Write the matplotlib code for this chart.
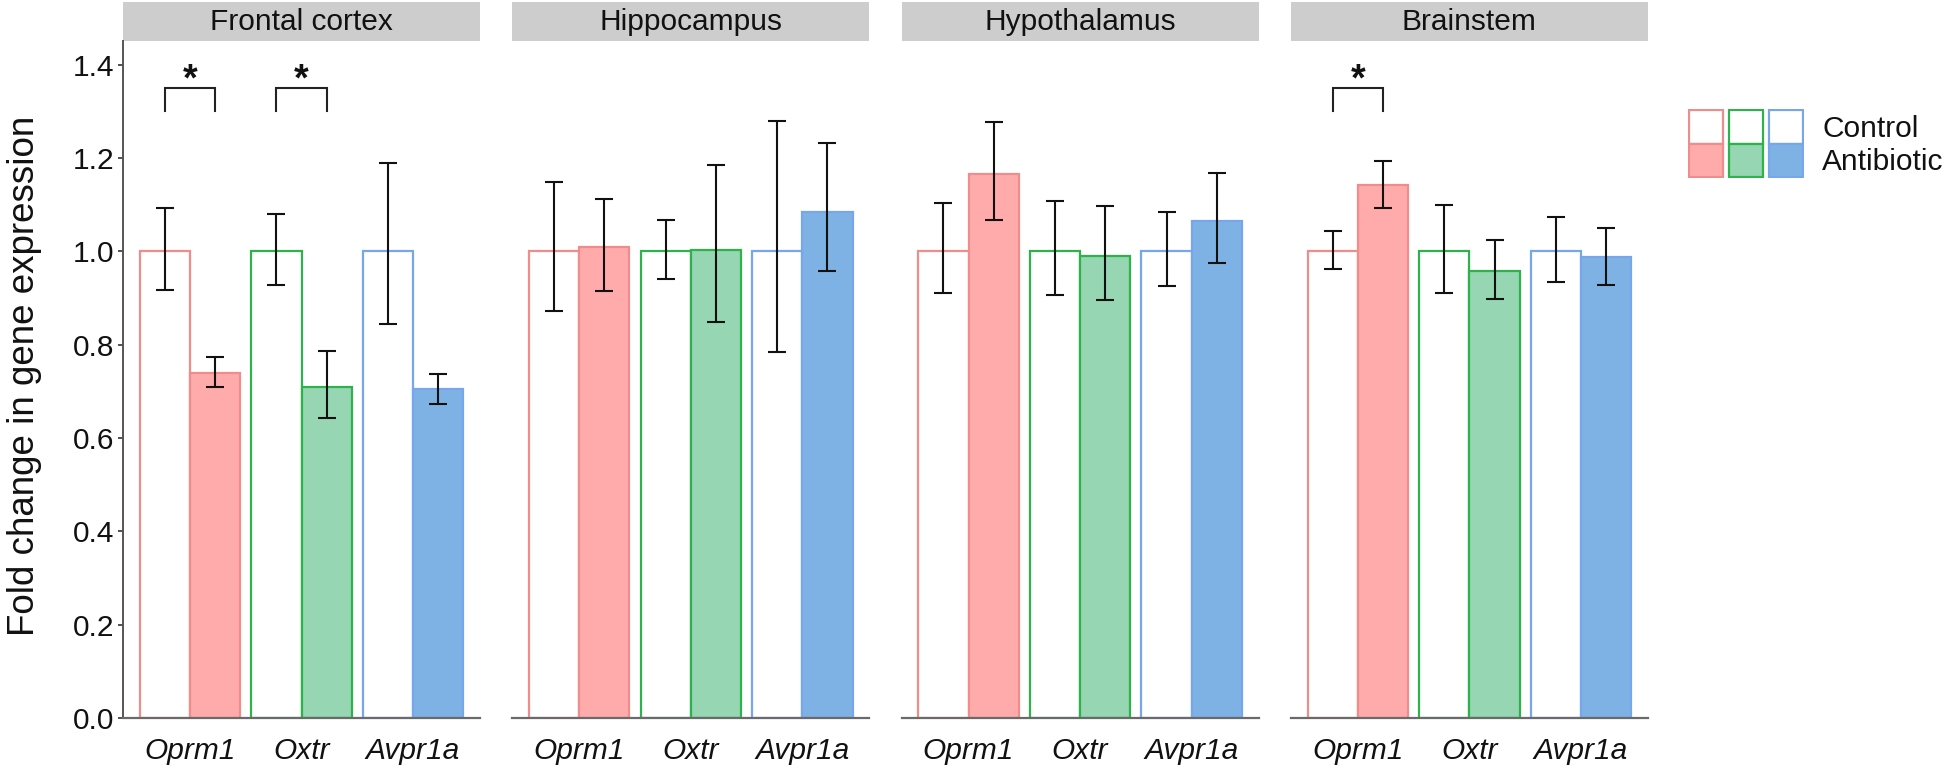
import matplotlib
matplotlib.use("Agg")
import matplotlib.pyplot as plt
from matplotlib.patches import Rectangle
import numpy as np

plt.rcParams['font.family'] = ['Liberation Sans', 'DejaVu Sans']

# ---------------- data ----------------
regions = ['Frontal cortex', 'Hippocampus', 'Hypothalamus', 'Brainstem']
genes = ['Oprm1', 'Oxtr', 'Avpr1a']
groups = ['Control', 'Antibiotic']

control_mean = [[1.0, 1.0, 1.0],
                [1.0, 1.0, 1.0],
                [1.0, 1.0, 1.0],
                [1.0, 1.0, 1.0]]
control_lo = [[0.918, 0.928, 0.844],
              [0.873, 0.940, 0.784],
              [0.910, 0.907, 0.925],
              [0.962, 0.910, 0.935]]
control_hi = [[1.093, 1.080, 1.189],
              [1.148, 1.067, 1.279],
              [1.103, 1.108, 1.085],
              [1.043, 1.100, 1.073]]

antibiotic_mean = [[0.740, 0.710, 0.705],
                   [1.010, 1.003, 1.084],
                   [1.165, 0.990, 1.065],
                   [1.142, 0.958, 0.988]]
antibiotic_lo = [[0.710, 0.643, 0.673],
                 [0.915, 0.848, 0.958],
                 [1.066, 0.895, 0.975],
                 [1.093, 0.898, 0.927]]
antibiotic_hi = [[0.773, 0.787, 0.737],
                 [1.112, 1.185, 1.232],
                 [1.278, 1.097, 1.167],
                 [1.193, 1.024, 1.050]]

# significant comparisons: (region index, gene index)
significant = [(0, 0), (0, 1), (3, 0)]
bracket_low, bracket_high = 1.30, 1.35

yticks = [0.0, 0.2, 0.4, 0.6, 0.8, 1.0, 1.2, 1.4]

# ---------------- style ----------------
edge_colors = ['#F08C8C', '#2EB24C', '#78A6EC']
fill_colors = ['#FFABAB', '#96D6B2', '#7EB2E4']
strip_color = '#CDCDCD'

W, H = 1947, 780
fig = plt.figure(figsize=(W / 100, H / 100), dpi=100)

panel_left0 = 123
panel_pitch = 389.3
panel_w = 357
panel_top = 41
panel_bottom = 718
strip_h = 39

tick_fs = 21.5
bw = 0.45

for r, region in enumerate(regions):
    x0 = panel_left0 + r * panel_pitch
    ax = fig.add_axes([x0 / W, (H - panel_bottom) / H, panel_w / W,
                       (panel_bottom - panel_top) / H])
    x = np.arange(len(genes)) + 1
    for g in range(len(genes)):
        cm = control_mean[r][g]
        am = antibiotic_mean[r][g]
        ax.bar(x[g] - bw / 2, cm, width=bw, facecolor='white',
               edgecolor=edge_colors[g], linewidth=1.6, zorder=2)
        ax.bar(x[g] + bw / 2, am, width=bw, facecolor=fill_colors[g],
               edgecolor=edge_colors[g], linewidth=1.6, zorder=2)
        ax.errorbar([x[g] - bw / 2], [cm],
                    yerr=[[cm - control_lo[r][g]], [control_hi[r][g] - cm]],
                    fmt='none', ecolor='#111111', elinewidth=1.5,
                    capsize=6.2, capthick=1.5, zorder=3)
        ax.errorbar([x[g] + bw / 2], [am],
                    yerr=[[am - antibiotic_lo[r][g]], [antibiotic_hi[r][g] - am]],
                    fmt='none', ecolor='#111111', elinewidth=1.5,
                    capsize=6.2, capthick=1.5, zorder=3)

    for (sr, sg) in significant:
        if sr == r:
            xl = x[sg] - bw / 2
            xr = x[sg] + bw / 2
            ax.plot([xl, xl, xr, xr],
                    [bracket_low, bracket_high, bracket_high, bracket_low],
                    color='#222222', lw=1.5, solid_joinstyle='miter', zorder=3,
                    clip_on=False)
            ax.text(x[sg], bracket_high - 0.022, '*', ha='center', va='bottom',
                    fontsize=27, fontweight='bold', color='#111111')

    ax.set_xlim(0.4, 3.6)
    ax.set_ylim(0, 1.4506)
    ax.set_xticks(x)
    ax.set_xticklabels(genes, fontstyle='italic', fontsize=tick_fs)
    ax.tick_params(axis='x', length=0, pad=13.5, colors='#111111')
    for s in ['top', 'right']:
        ax.spines[s].set_visible(False)
    ax.spines['bottom'].set_color('#6a6a6a')
    ax.spines['bottom'].set_linewidth(1.6)
    if r == 0:
        ax.set_yticks(yticks)
        ax.set_yticklabels([f'{v:.1f}' for v in yticks], fontsize=tick_fs)
        ax.tick_params(axis='y', length=3.5, width=1.2, pad=3,
                       colors='#333333', labelcolor='#111111')
        ax.spines['left'].set_color('#555555')
        ax.spines['left'].set_linewidth(1.4)
    else:
        ax.set_yticks([])
        ax.spines['left'].set_visible(False)

    sh = strip_h / (panel_bottom - panel_top)
    ax.add_patch(Rectangle((0, 1.0), 1, sh, transform=ax.transAxes,
                           facecolor=strip_color, edgecolor='none',
                           clip_on=False, zorder=1))
    ax.text(0.5, 1.0 + sh / 2, region, transform=ax.transAxes,
            ha='center', va='center', fontsize=tick_fs, color='#111111')

fig.text(25 / W, (H - 376) / H, 'Fold change in gene expression',
         rotation=90, ha='center', va='center', fontsize=26.5, color='#111111')

# ---------------- legend ----------------
lx0, ly_top, lw_, lh_ = 1688, 109, 116, 69
lax = fig.add_axes([lx0 / W, (H - ly_top - lh_) / H, lw_ / W, lh_ / H])
lax.set_xlim(0, lw_)
lax.set_ylim(0, lh_)
lax.axis('off')
for g in range(len(genes)):
    xs = g * 40 + 1
    lax.add_patch(Rectangle((xs, lh_ / 2), 34, lh_ / 2 - 1,
                            facecolor='white', edgecolor=edge_colors[g],
                            linewidth=1.6))
    lax.add_patch(Rectangle((xs, 1), 34, lh_ / 2 - 1,
                            facecolor=fill_colors[g], edgecolor=edge_colors[g],
                            linewidth=1.6))
fig.text(1822 / W, (H - 129) / H, groups[0], ha='left', va='center',
         fontsize=tick_fs, color='#111111')
fig.text(1822 / W, (H - 162) / H, groups[1], ha='left', va='center',
         fontsize=tick_fs, color='#111111')

fig.savefig('out.png', dpi=100, facecolor='white')
